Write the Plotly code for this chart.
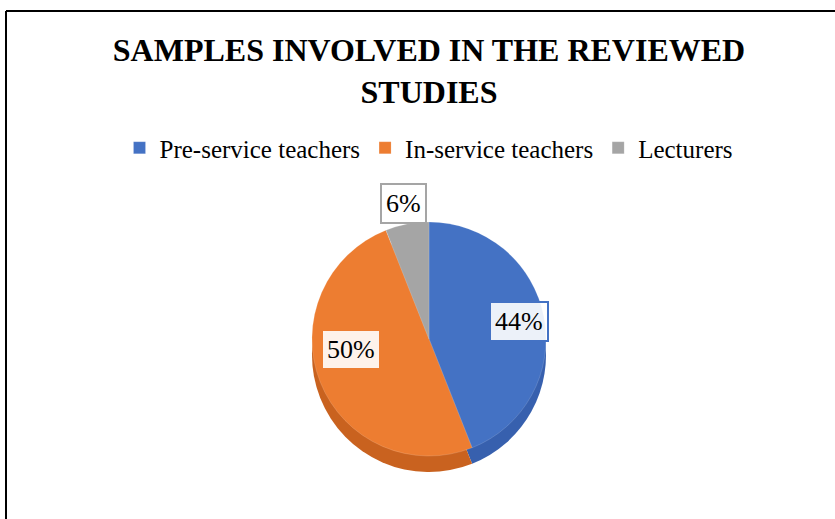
import math
import plotly.graph_objects as go

# ---- data ----
categories = ["Pre-service teachers", "In-service teachers", "Lecturers"]
values = [44, 50, 6]
colors = ["#4472C4", "#ED7D31", "#A5A5A5"]
side_colors = ["#3760AE", "#C9621F", "#8A8A8A"]
title_text = "SAMPLES INVOLVED IN THE REVIEWED<br>STUDIES"

SERIF = "Liberation Serif"
W, H = 835, 519
cx, cy = 429, 339      # pie centre in px (from top-left)
R = 117                # pie radius in px
depth = 16             # fake 3D thickness in px

def dom_x():
    return [(cx - R) / W, (cx + R) / W]

def dom_y(off=0):
    return [1 - (cy + off + R) / H, 1 - (cy + off - R) / H]

fig = go.Figure()

# "side" of the pie (shadow slice drawn underneath, shifted down)
fig.add_trace(go.Pie(
    labels=categories, values=values, sort=False, direction="clockwise",
    rotation=0, marker=dict(colors=side_colors, line=dict(width=0)),
    textinfo="none", hoverinfo="skip", showlegend=False,
    domain=dict(x=dom_x(), y=dom_y(depth)),
))

# top face
fig.add_trace(go.Pie(
    labels=categories, values=values, sort=False, direction="clockwise",
    rotation=0, marker=dict(colors=colors, line=dict(width=0.6, color="rgba(255,255,255,0.25)")),
    textinfo="none", showlegend=True,
    domain=dict(x=dom_x(), y=dom_y(0)),
))

# data labels placed at each slice's mid-angle (computed from values)
total = sum(values)
cum = 0
radial = [0.78, 0.72, 1.18]
for lab, v, col, rf in zip(categories, values, colors, radial):
    mid = (cum + v / 2) / total * 2 * math.pi
    cum += v
    px = cx + rf * R * math.sin(mid)
    py = cy - rf * R * math.cos(mid)
    fig.add_annotation(
        x=px / W, y=1 - py / H, xref="paper", yref="paper",
        text=f"{round(v / total * 100)}%", showarrow=False,
        font=dict(family=SERIF, size=26, color="black"),
        bgcolor="rgba(255,255,255,0.9)", bordercolor=col, borderwidth=2, borderpad=4,
    )

# chart-area border (left and top edges visible in reference)
fig.add_shape(type="line", xref="paper", yref="paper",
              x0=6 / W, x1=6 / W, y0=0, y1=1 - 11 / H,
              line=dict(color="black", width=2))
fig.add_shape(type="line", xref="paper", yref="paper",
              x0=6 / W, x1=1, y0=1 - 11 / H, y1=1 - 11 / H,
              line=dict(color="black", width=2))

fig.update_layout(
    width=W, height=H,
    margin=dict(l=0, r=0, t=0, b=0),
    paper_bgcolor="white", plot_bgcolor="white",
    title=dict(text=title_text, x=429 / W, xanchor="center",
               y=1 - 61 / H, yanchor="middle", yref="container",
               font=dict(family=SERIF, size=32, color="black", weight="bold")),
    legend=dict(orientation="h", x=429 / W, xanchor="center",
                y=1 - 148 / H, yanchor="middle",
                font=dict(family=SERIF, size=25, color="black"),
                itemwidth=30, traceorder="normal"),
    showlegend=True,
)

fig.write_html("out.html")
